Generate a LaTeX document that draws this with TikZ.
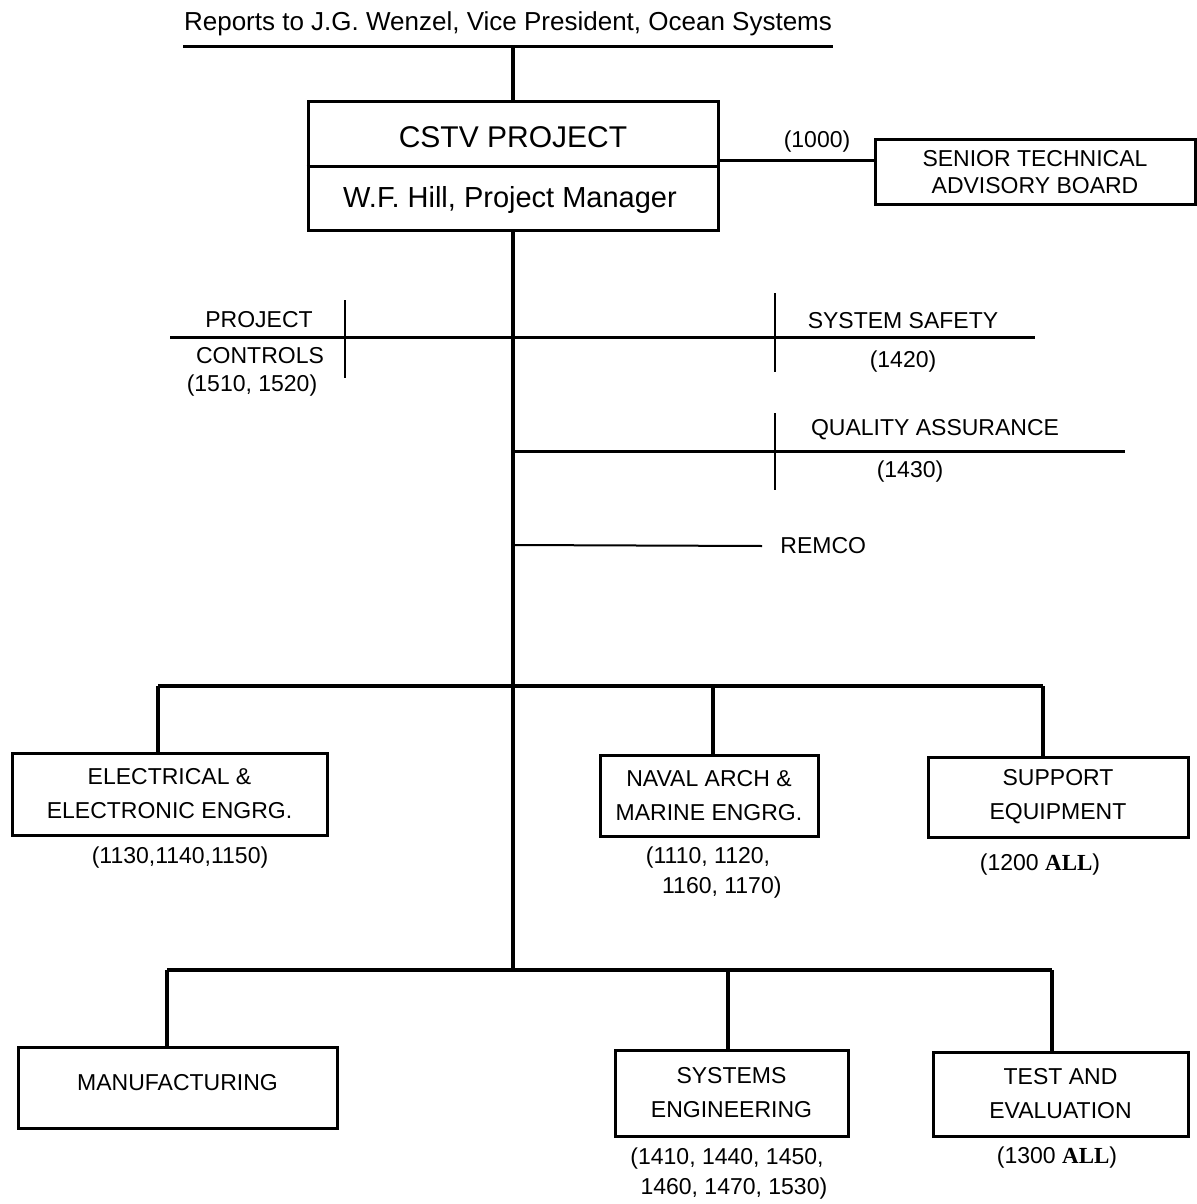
\documentclass[tikz,border=0pt]{standalone}
\usepackage{fontspec}
\setmainfont{Liberation Sans}
\newfontfamily\allfont{Liberation Serif}
\begin{document}
\begin{tikzpicture}[x=0.5pt,y=-0.5pt,
  box/.style={draw, line width=1.5pt, inner sep=0pt, align=center, font=\fontsize{11.5}{17}\selectfont},
  conn/.style={line width=2pt},
  mid/.style={line width=1.5pt},
  tick/.style={line width=1pt},
  lbl/.style={inner sep=0pt, font=\fontsize{11.5}{14}\selectfont},
  code/.style={inner sep=0pt, align=center, font=\fontsize{11.5}{15}\selectfont}]
\useasboundingbox (0,0) rectangle (1197,1204);

% top
\node[inner sep=0pt, font=\fontsize{13}{15}\selectfont] (rep) at (508,24) {Reports to J.G. Wenzel, Vice President, Ocean Systems};
\coordinate (rl) at (183,47);
\coordinate (rr) at (833,47);
\draw[mid] (rl) -- (rr);

% CSTV box
\node[box, minimum width=205pt, minimum height=64pt] (cstv) at (513,166) {};
\draw[line width=1.5pt] (cstv.west) -- (cstv.east);
\node[inner sep=0pt, font=\fontsize{15}{17}\selectfont] (cstvt) at (513,137) {CSTV PROJECT};
\node[inner sep=0pt, font=\fontsize{14.5}{16}\selectfont] (mgr) at (510,200) {W.F. Hill, Project Manager};
\draw[conn] (cstv.north) -- (cstv.north |- rl);

% Senior technical advisory board
\node[box, minimum width=160pt, minimum height=32.5pt, font=\fontsize{11.5}{13.5}\selectfont] (stab) at (1035,172) {SENIOR TECHNICAL\\ADVISORY BOARD};
\draw[mid] ([yshift=3pt]cstv.east) -- ([yshift=3pt]cstv.east -| stab.west);
\node[code] (c1000) at (817,142) {(1000)};

% spine
\coordinate (b1) at (513,686);
\coordinate (b2) at (513,970);
\draw[conn] (cstv.south) -- (b2);

% staff lines
\coordinate (pcL) at (170,337);
\coordinate (ssR) at (1035,337);
\draw[mid] (pcL) -- (ssR);
\draw[tick] (345,300) -- (345,378);
\draw[tick] (775,293) -- (775,372);
\node[lbl] (pc1) at (259,320) {PROJECT};
\node[lbl] (pc2) at (260,356) {CONTROLS};
\node[code] (pc3) at (252,386) {(1510, 1520)};
\node[lbl] (ss1) at (903,321) {SYSTEM SAFETY};
\node[code] (ss2) at (903,362) {(1420)};

\coordinate (qaL) at (513,451);
\coordinate (qaR) at (1125,451);
\draw[mid] (qaL) -- (qaR);
\draw[tick] (775,413) -- (775,490);
\node[lbl] (qa1) at (935,430) {QUALITY ASSURANCE};
\node[code] (qa2) at (910,472) {(1430)};

\coordinate (remL) at (513,545);
\node[lbl, anchor=west] (remco) at (780,546) {REMCO};
\draw[tick] (remL) -- ([xshift=-9pt]remco.west);

% first row
\node[box, minimum width=157.5pt, minimum height=41pt] (eee) at (169.5,794) {ELECTRICAL \&\\ELECTRONIC ENGRG.};
\node[box, minimum width=109pt, minimum height=40.5pt] (naval) at (709,795.5) {NAVAL ARCH \&\\MARINE ENGRG.};
\node[box, minimum width=130pt, minimum height=40pt] (sup) at (1058,797) {SUPPORT\\EQUIPMENT};
\coordinate (k1) at (158,686);
\coordinate (k2) at (713,686);
\coordinate (k3) at (1043,686);
\draw[conn] (k1) -- (k3);
\draw[conn] (k1) -- (k1 |- eee.north);
\draw[conn] (k2) -- (k2 |- naval.north);
\draw[conn] (k3) -- (k3 |- sup.north);
\node[code] (eeec) at (180,858) {(1130,1140,1150)};
\node[code] (navc) at (708,873) {(1110, 1120,\\\hspace*{1.2em}1160, 1170)};
\node[code] (supc) at (1040,865) {(1200 {\allfont\bfseries ALL})};

% second row
\node[box, minimum width=159.5pt, minimum height=40.5pt] (manuf) at (177.5,1087.5) {\raisebox{5pt}{MANUFACTURING}};
\node[box, minimum width=116.5pt, minimum height=43pt] (syseng) at (731.5,1093) {SYSTEMS\\ENGINEERING};
\node[box, minimum width=127.5pt, minimum height=42pt] (test) at (1060.5,1094) {TEST AND\\EVALUATION};
\coordinate (m1) at (167,970);
\coordinate (m2) at (728,970);
\coordinate (m3) at (1052,970);
\draw[conn] (m1) -- (m3);
\draw[conn] (m1) -- (m1 |- manuf.north);
\draw[conn] (m2) -- (m2 |- syseng.north);
\draw[conn] (m3) -- (m3 |- test.north);
\node[code] (sysc) at (727,1174) {(1410, 1440, 1450,\\\hspace*{0.6em}1460, 1470, 1530)};
\node[code] (testc) at (1057,1158) {(1300 {\allfont\bfseries ALL})};
\end{tikzpicture}
\end{document}
